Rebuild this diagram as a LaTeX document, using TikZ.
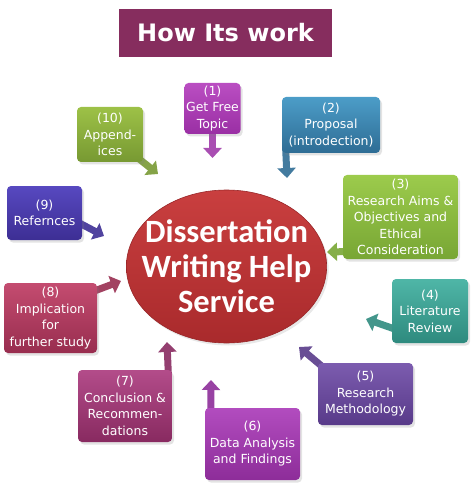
\documentclass[tikz,border=0pt]{standalone}
\usepackage{fontspec}
\usepackage{xcolor}
\usepackage{tikz}
\usetikzlibrary{arrows.meta,shapes.geometric,shadows}
\newfontfamily\boxfont{DejaVu Sans}
\newfontfamily\hubfont{Carlito}
\definecolor{titlebg}{HTML}{862D5E}
\definecolor{hubtop}{HTML}{C93F3F}
\definecolor{hubbot}{HTML}{A92A2C}
\definecolor{topicA}{HTML}{BA4EC2}\definecolor{topicB}{HTML}{9A2FA4}
\definecolor{propA}{HTML}{4C9DC8}\definecolor{propB}{HTML}{2E6C94}
\definecolor{aimsA}{HTML}{9CCB4C}\definecolor{aimsB}{HTML}{78A634}
\definecolor{revA}{HTML}{4FB6A7}\definecolor{revB}{HTML}{2E8A7E}
\definecolor{methA}{HTML}{7C5CAF}\definecolor{methB}{HTML}{583A89}
\definecolor{dataA}{HTML}{B24CBF}\definecolor{dataB}{HTML}{8D2D99}
\definecolor{concA}{HTML}{B34C8A}\definecolor{concB}{HTML}{882A60}
\definecolor{implA}{HTML}{C44C70}\definecolor{implB}{HTML}{982D4F}
\definecolor{refA}{HTML}{5749C0}\definecolor{refB}{HTML}{3D2E94}
\definecolor{appA}{HTML}{9DC147}\definecolor{appB}{HTML}{779932}
\pgfdeclarelayer{back}
\pgfsetlayers{back,main}
\tikzset{
  stepbox/.style 2 args={rectangle, rounded corners=4pt, align=center,
    inner sep=0pt, text=white, top color=#1, bottom color=#2,
    font=\boxfont\fontsize{12.5}{16.5}\selectfont,
    drop shadow={opacity=0.22, shadow xshift=2pt, shadow yshift=-2.5pt}},
  flow/.style={draw=#1, line width=7pt, shorten <=-7pt,
    -{Triangle[width=18pt,length=10pt]}},
  hub/.style={ellipse, inner xsep=-14pt, inner ysep=0pt,
    minimum width=197pt, minimum height=153pt,
    top color=hubtop, bottom color=hubbot, draw=hubbot!90!black, line width=0.6pt,
    drop shadow={opacity=0.18, shadow xshift=2pt, shadow yshift=-2.5pt},
    text=white, align=center, font=\hubfont\bfseries\fontsize{32.5}{35}\selectfont},
  titlebox/.style={rectangle, fill=titlebg, text=white, inner sep=0pt,
    minimum width=213pt, minimum height=48pt,
    font=\boxfont\bfseries\fontsize{24}{28}\selectfont}
}
\begin{document}
\begin{tikzpicture}[x=1pt,y=-1pt]
  \useasboundingbox (0,0) rectangle (474,486);

  \node[titlebox] (title) at (225.5,33) {How Its work};
  \node[hub] (hub) at (226.5,266.5) {Dissertation\\Writing Help\\Service};

  % the ten steps round the hub
  \node[stepbox={topicA}{topicB}, minimum width=56pt, minimum height=51pt]
    (topic) at (212.5,108.5) {(1)\\Get Free\\Topic};
  \node[stepbox={propA}{propB}, minimum width=98pt, minimum height=56pt]
    (proposal) at (331,125) {(2)\\Proposal\\(introdection)};
  \node[stepbox={aimsA}{aimsB}, minimum width=115pt, minimum height=84pt]
    (aims) at (400.5,217) {(3)\\Research Aims \&\\Objectives and\\Ethical\\Consideration};
  \node[stepbox={revA}{revB}, minimum width=76pt, minimum height=64pt]
    (review) at (430,311) {(4)\\Literature\\Review};
  \node[stepbox={methA}{methB}, minimum width=95pt, minimum height=62pt]
    (method) at (365.5,394) {(5)\\Research\\Methodology};
  \node[stepbox={dataA}{dataB}, minimum width=95pt, minimum height=72pt]
    (data) at (252.5,444) {(6)\\Data Analysis\\and Findings};
  \node[stepbox={concA}{concB}, minimum width=94pt, minimum height=72pt]
    (conclusion) at (125,406) {(7)\\Conclusion \&\\Recommen-\\dations};
  \node[stepbox={implA}{implB}, minimum width=93pt, minimum height=70pt]
    (implication) at (50.5,318) {(8)\\Implication\\for\\further study};
  \node[stepbox={refA}{refB}, minimum width=75pt, minimum height=54pt]
    (references) at (44.5,213) {(9)\\Refernces};
  \node[stepbox={appA}{appB}, minimum width=66pt, minimum height=55pt]
    (appendices) at (110,134.5) {(10)\\Append-\\ices};

  % arrow tips
  \coordinate (t1) at (212.5,158);
  \coordinate (t2) at (287,178);
  \coordinate (t3) at (327,252);
  \coordinate (t4) at (366,319);
  \coordinate (t5) at (299,347);
  \coordinate (t6) at (211,380);
  \coordinate (t7) at (167,342);
  \coordinate (t8) at (121,281);
  \coordinate (t9) at (104,236);
  \coordinate (t10) at (158,174);

  \begin{pgfonlayer}{back}
    \draw[flow=topicB!85!white] (topic.south) -- (t1);
    \draw[flow=propB!90!white] (proposal.212.5) -- (t2);
    \draw[flow=aimsB!90!white] (aims.211.3) -- (t3);
    \draw[flow=revB!90!white] (review.204) -- (t4);
    \draw[flow=methB!90!white] (method.north west) -- (t5);
    \draw[flow=dataB!90!white] (data.139) -- (t6);
    \draw[flow=concB!90!white] (conclusion.40.6) -- (t7);
    \draw[flow=implB!90!white] (implication.31) -- (t8);
    \draw[flow=refB!90!white] (references.343.7) -- (t9);
    \draw[flow=appB!90!white] (appendices.south east) -- (t10);
  \end{pgfonlayer}
\end{tikzpicture}
\end{document}
